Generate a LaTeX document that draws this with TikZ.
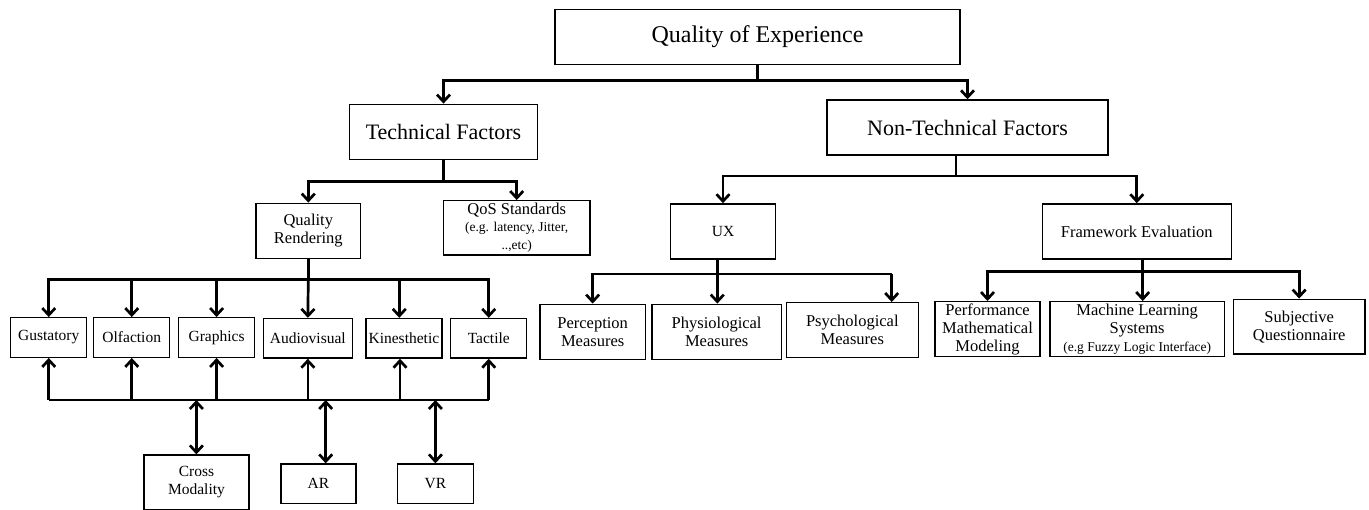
\documentclass[tikz,border=0pt]{standalone}
\usepackage{fontspec}
\setmainfont{Liberation Serif}
\usetikzlibrary{arrows.meta}

\newcommand{\notesize}{\fontsize{13.5}{14.5}\selectfont}

\begin{document}
\begin{tikzpicture}[x=1pt, y=-1pt,
        box/.style={draw, line width=1.4pt, align=center, inner sep=0pt},
        topbox/.style={box, font=\fontsize{22}{24}\selectfont, minimum height=55pt},
        midbox/.style={box, font=\fontsize{16.5}{18}\selectfont, minimum height=55pt},
        lowbox/.style={box, font=\fontsize{15.5}{18}\selectfont, minimum height=39.5pt, minimum width=76pt},
        conn/.style={line width=2.7pt},
        arr/.style={conn, -{Straight Barb[length=7pt,width=13pt]}},
        darr/.style={conn, {Straight Barb[length=7pt,width=13pt]}-{Straight Barb[length=7pt,width=13pt]}}
    ]
    \useasboundingbox (0,0) rectangle (1369,510);

    % levels 0 and 1
    \node[topbox, font=\fontsize{24}{26}\selectfont, minimum width=405pt] (qoe) at (757.5,36.8) {Quality of Experience};
    \node[topbox, minimum width=188.4pt] (tf) at (443.5,131.8) {Technical Factors};
    \node[topbox, minimum width=280.7pt] (ntf) at (967.5,127.5) {Non-Technical Factors};

    % level 2
    \node[midbox, minimum width=104.7pt] (qr) at (308.3,230.8) {Quality\\Rendering};
    \node[midbox, minimum width=146.7pt, minimum height=54.3pt] (qos) at (516.7,227.9)
        {QoS Standards\\[-1pt]\notesize (e.g. latency, Jitter,\\\notesize ..,etc)};
    \node[midbox, minimum width=105.4pt, font=\fontsize{15.5}{18}\selectfont] (ux) at (723,231.4) {UX};
    \node[midbox, minimum width=189pt] (fe) at (1136.8,231.4) {Framework Evaluation};

    % level 3, technical side
    \node[lowbox] (gus) at (48.75,337.5) {Gustatory};
    \node[lowbox] (olf) at (131.75,337.5) {Olfaction};
    \node[lowbox] (gra) at (216.6,337.5) {Graphics};
    \node[lowbox, minimum width=89.3pt] (av) at (307.85,338.3) {Audiovisual};
    \node[lowbox] (kin) at (403.9,338.3) {Kinesthetic};
    \node[lowbox] (tac) at (488.75,338.3) {Tactile};

    % level 3, non-technical side
    \node[midbox, minimum width=105.3pt] (per) at (592.65,331.8) {Perception\\Measures};
    \node[midbox, minimum width=129.3pt] (phy) at (716.65,331.8) {Physiological\\Measures};
    \node[midbox, minimum width=132pt, minimum height=54.6pt] (psy) at (852.3,330) {Psychological\\Measures};
    \node[midbox, minimum width=105pt] (pmm) at (987.5,329.2) {Performance\\Mathematical\\Modeling};
    \node[midbox, minimum width=174.3pt] (mls) at (1137.15,329.2)
        {Machine Learning\\Systems\\\notesize (e.g Fuzzy Logic Interface)};
    \node[midbox, minimum width=131.7pt, minimum height=54.7pt] (sq) at (1299.15,326.65) {Subjective\\Questionnaire};

    % level 4
    \node[lowbox, minimum width=105pt, minimum height=54.3pt] (cm) at (196.5,482.2) {Cross\\Modality};
    \node[lowbox, minimum width=75pt, minimum height=39.3pt] (ar) at (318.5,483.7) {AR};
    \node[lowbox, minimum width=75.7pt, minimum height=39.3pt] (vr) at (435.4,483.7) {VR};

    % bus points
    \coordinate (t0) at (757.5,80.7);
    \coordinate (a0) at (443.5,181.7);
    \coordinate (n0) at (956,176);
    \coordinate (u0) at (717.3,274);
    \coordinate (u3) at (891.7,274);
    \coordinate (f0) at (1142.7,271.7);
    \coordinate (q0) at (308.3,279.3);
    \coordinate (q5) at (399.3,279.3);
    \coordinate (m0) at (48.75,400);
    \coordinate (m5) at (488.75,400);
    \coordinate (k0) at (400,400);
    \coordinate (c1) at (196.4,400);
    \coordinate (c2) at (325.7,400);
    \coordinate (c3) at (435.4,400);

    % quality of experience
    \draw[conn] (qoe.south) -- (t0);
    \draw[arr] (t0) -| (tf.north);
    \draw[arr] (t0) -| (ntf.north);

    % technical factors
    \draw[conn] (tf.south) -- (a0);
    \draw[arr] (a0) -| (qr.north);
    \draw[arr] (a0) -| (qos.north);

    % non-technical factors
    \draw[conn] (n0 |- ntf.south) -- (n0);
    \draw[arr] (n0) -| (ux.north);
    \draw[arr] (n0) -| (fe.north);

    % ux
    \draw[conn] (u0 |- ux.south) -- (u0);
    \draw[arr] (u0) -| (per.north);
    \draw[arr] (u0) -- (u0 |- phy.north);
    \draw[conn] (u0) -- (u3);
    \draw[arr] (u3) -- (u3 |- psy.north);

    % framework evaluation
    \draw[conn] (f0 |- fe.south) -- (f0);
    \draw[arr] (f0) -| (pmm.north);
    \draw[arr] (f0) -- (f0 |- mls.north);
    \draw[arr] (f0) -| (sq.north);

    % quality rendering
    \draw[conn] (qr.south) -- (q0);
    \draw[arr] (q0) -| (gus.north);
    \draw[arr] (q0) -| (olf.north);
    \draw[arr] (q0) -| (gra.north);
    \draw[arr] (q0) -- (av.north);
    \draw[conn] (q0) -- (q5);
    \draw[arr] (q5) -- (q5 |- kin.north);
    \draw[arr] (q0) -| (tac.north);

    % shared modalities
    \draw[conn] (m0) -- (m5);
    \draw[arr] (m0) -- (gus.south);
    \draw[arr] (olf.south |- m0) -- (olf.south);
    \draw[arr] (gra.south |- m0) -- (gra.south);
    \draw[arr] (av.south |- m0) -- (av.south);
    \draw[arr] (k0) -- (k0 |- kin.south);
    \draw[arr] (m5) -- (tac.south);

    \draw[darr] (c1) -- (c1 |- cm.north);
    \draw[darr] (c2) -- (c2 |- ar.north);
    \draw[darr] (c3) -- (vr.north);
\end{tikzpicture}
\end{document}
